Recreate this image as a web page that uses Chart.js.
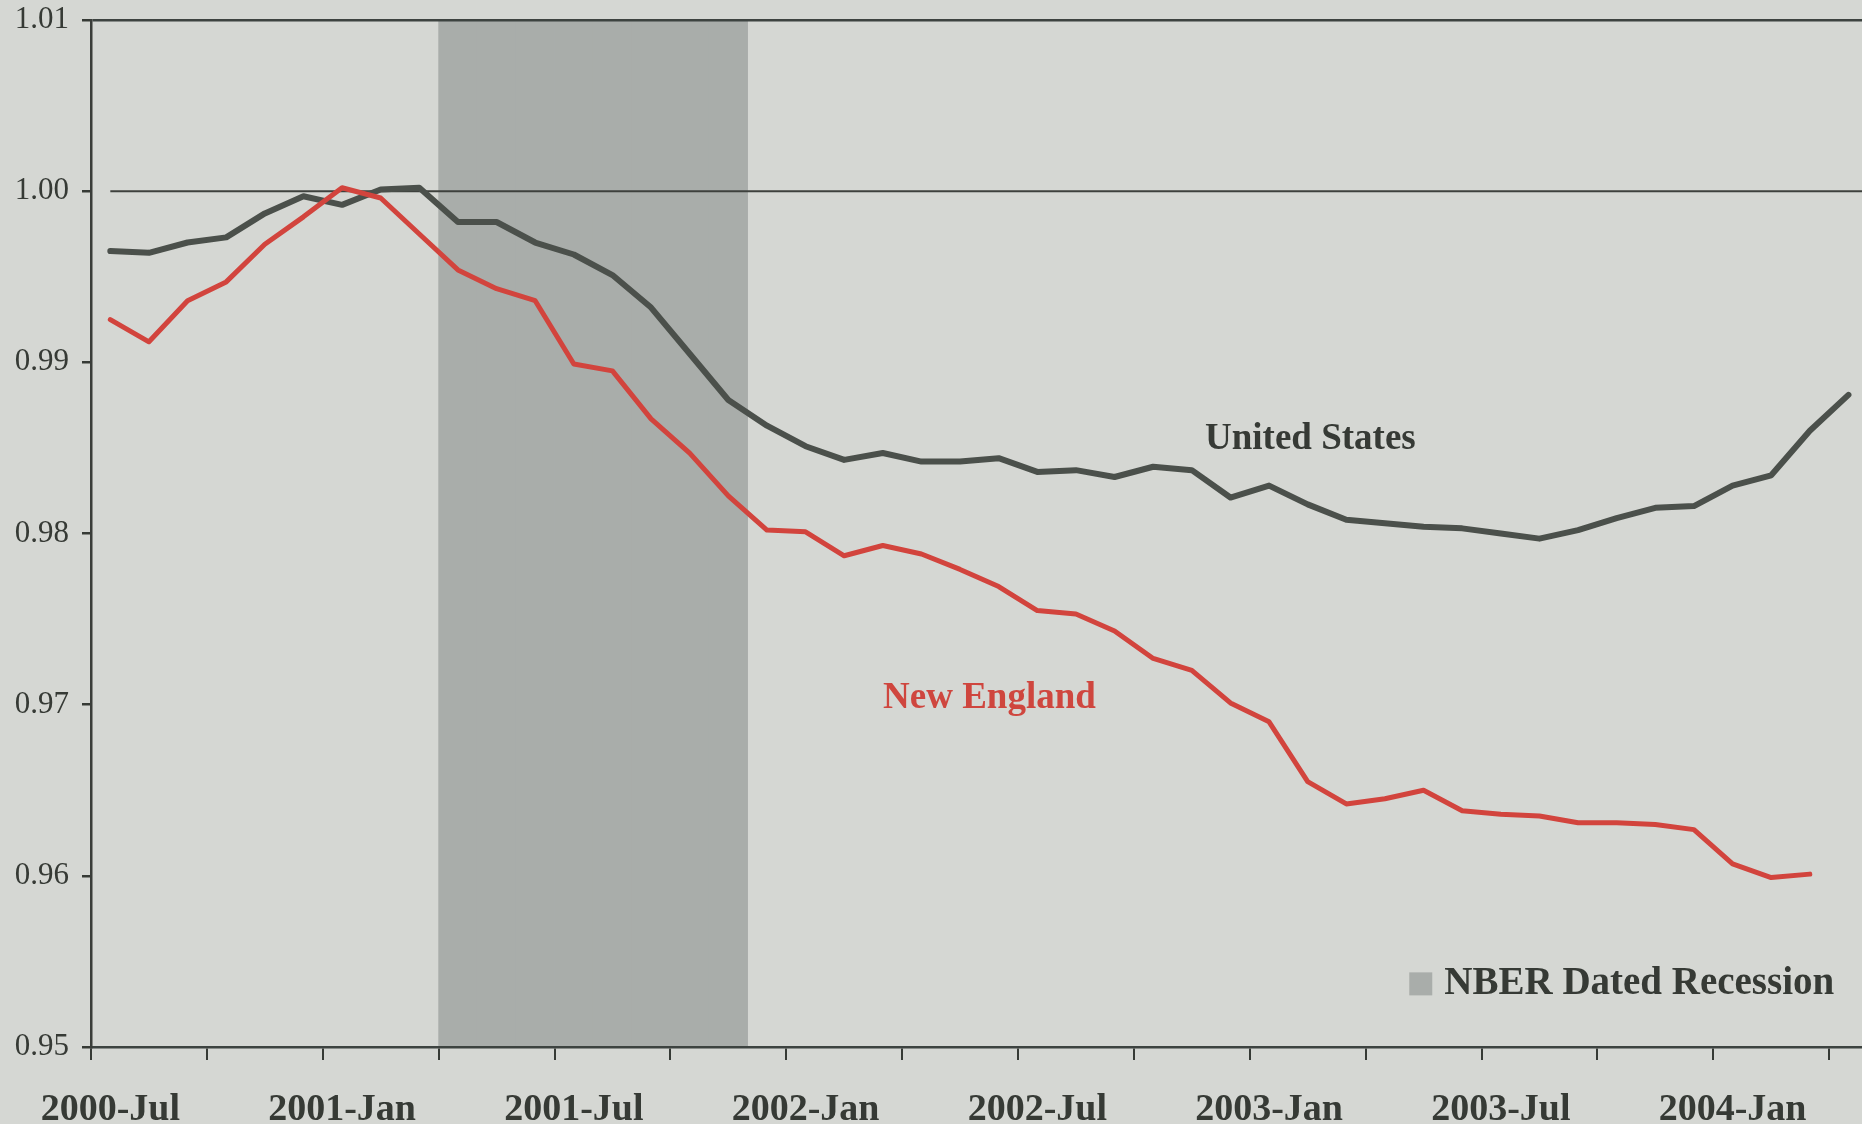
<!DOCTYPE html>
<html>
<head>
<meta charset="utf-8">
<script src="https://cdn.jsdelivr.net/npm/chart.js@4.4.1/dist/chart.umd.min.js"></script>
<style>
    html, body {
        margin: 0;
        padding: 0;
        background: #d5d7d3;
        overflow: hidden;
    }
    #caixa {
        width: 1945px;
        height: 1124px;
    }
</style>
</head>
<body>
<div id="caixa">
    <canvas id="grafico-emprego" width="1945" height="1124"></canvas>
</div>
<script>
// meses (categorias do eixo x)
const meses = [
    '2000-Jul', '2000-Aug', '2000-Sep', '2000-Oct', '2000-Nov', '2000-Dec',
    '2001-Jan', '2001-Feb', '2001-Mar', '2001-Apr', '2001-May', '2001-Jun',
    '2001-Jul', '2001-Aug', '2001-Sep', '2001-Oct', '2001-Nov', '2001-Dec',
    '2002-Jan', '2002-Feb', '2002-Mar', '2002-Apr', '2002-May', '2002-Jun',
    '2002-Jul', '2002-Aug', '2002-Sep', '2002-Oct', '2002-Nov', '2002-Dec',
    '2003-Jan', '2003-Feb', '2003-Mar', '2003-Apr', '2003-May', '2003-Jun',
    '2003-Jul', '2003-Aug', '2003-Sep', '2003-Oct', '2003-Nov', '2003-Dec',
    '2004-Jan', '2004-Feb', '2004-Mar', '2004-Apr', '2004-May', '2004-Jun'
];

// series (índice, pico = 1.00)
const estadosUnidos = [
    0.9965, 0.9964, 0.9970, 0.9973, 0.9987, 0.9997, 0.9992, 1.0001, 1.0002, 0.9982,
    0.9982, 0.9970, 0.9963, 0.9951, 0.9932, 0.9905, 0.9878, 0.9863, 0.9851, 0.9843,
    0.9847, 0.9842, 0.9842, 0.9844, 0.9836, 0.9837, 0.9833, 0.9839, 0.9837, 0.9821,
    0.9828, 0.9817, 0.9808, 0.9806, 0.9804, 0.9803, 0.9800, 0.9797, 0.9802, 0.9809,
    0.9815, 0.9816, 0.9828, 0.9834, 0.9860, 0.9881
];
const novaInglaterra = [
    0.9925, 0.9912, 0.9936, 0.9947, 0.9969, 0.9985, 1.0002, 0.9996, 0.9975, 0.9954,
    0.9943, 0.9936, 0.9899, 0.9895, 0.9867, 0.9847, 0.9822, 0.9802, 0.9801, 0.9787,
    0.9793, 0.9788, 0.9779, 0.9769, 0.9755, 0.9753, 0.9743, 0.9727, 0.9720, 0.9701,
    0.9690, 0.9655, 0.9642, 0.9645, 0.9650, 0.9638, 0.9636, 0.9635, 0.9631, 0.9631,
    0.9630, 0.9627, 0.9607, 0.9599, 0.9601
];
const linhaBase = 1.00;

// recessão NBER (meses sombreados)
const recessaoInicio = '2001-Apr';
const recessaoFim = '2001-Nov';

// eixo y
const yMin = 0.95;
const yMax = 1.01;
const yPasso = 0.01;

const corTexto = '#363a35';
const corSombra = '#a9adaa';
const fonte = '"Liberation Serif", "Times New Roman", serif';

window.addEventListener('load', () => {
    gerarGraficoLinha();
});

function gerarGraficoLinha() {
    const canvas = document.getElementById('grafico-emprego');
    const iIni = meses.indexOf(recessaoInicio);
    const iFim = meses.indexOf(recessaoFim);
    const sombra = meses.map((m, i) => (i >= iIni && i <= iFim) ? [yMin, yMax] : null);
    const base = meses.map(() => linhaBase);

    // textos dentro do gráfico
    const rotulos = {
        id: 'rotulos',
        afterDatasetsDraw(chart) {
            const ctx = chart.ctx;
            const x = chart.scales.x;
            const y = chart.scales.y;
            ctx.save();
            ctx.textBaseline = 'alphabetic';

            ctx.font = 'bold 37px ' + fonte;
            ctx.textAlign = 'center';
            ctx.fillStyle = corTexto;
            ctx.fillText('United States', x.getPixelForValue(31.07), y.getPixelForValue(0.98495));
            ctx.fillStyle = '#cf463e';
            ctx.fillText('New England', x.getPixelForValue(22.76), y.getPixelForValue(0.9698));

            // legenda da recessão
            const lx = x.getPixelForValue(33.63);
            const ly = y.getPixelForValue(0.95436);
            ctx.fillStyle = corSombra;
            ctx.fillRect(lx, ly, 23, 23);
            ctx.font = 'bold 39px ' + fonte;
            ctx.textAlign = 'left';
            ctx.fillStyle = corTexto;
            ctx.fillText('NBER Dated Recession', lx + 35, ly + 22);
            ctx.restore();
        }
    };

    new Chart(canvas, {
        type: 'line',
        data: {
            labels: meses,
            datasets: [
                {
                    label: 'New England',
                    data: novaInglaterra,
                    borderColor: '#d2443d',
                    borderWidth: 5,
                    pointRadius: 0,
                    tension: 0,
                    borderJoinStyle: 'round',
                    borderCapStyle: 'round',
                    order: 0
                },
                {
                    label: 'United States',
                    data: estadosUnidos,
                    borderColor: '#4b504b',
                    borderWidth: 6,
                    pointRadius: 0,
                    tension: 0,
                    borderJoinStyle: 'round',
                    borderCapStyle: 'round',
                    order: 1
                },
                {
                    label: 'base',
                    data: base,
                    borderColor: '#3e413d',
                    borderWidth: 2,
                    pointRadius: 0,
                    order: 2
                },
                {
                    type: 'bar',
                    label: 'NBER Dated Recession',
                    data: sombra,
                    backgroundColor: corSombra,
                    borderWidth: 0,
                    barPercentage: 1,
                    categoryPercentage: 1,
                    order: 3
                }
            ]
        },
        options: {
            responsive: false,
            animation: false,
            layout: {
                padding: { top: 20, left: 0, right: 0, bottom: 0 }
            },
            plugins: {
                legend: { display: false },
                tooltip: { enabled: false },
                title: { display: false }
            },
            scales: {
                x: {
                    type: 'category',
                    offset: true,
                    afterFit(scale) {
                        scale.height = 77;
                        scale.paddingLeft = 0;
                        scale.paddingRight = 0;
                    },
                    grid: {
                        offset: true,
                        drawOnChartArea: false,
                        drawTicks: true,
                        tickLength: 13,
                        lineWidth: 2,
                        tickColor: (c) => c.index % 3 === 0 ? corTexto : 'rgba(0,0,0,0)',
                        z: 1
                    },
                    border: { display: true, color: '#3d4340', width: 2.5, z: 1 },
                    ticks: {
                        autoSkip: false,
                        maxRotation: 0,
                        minRotation: 0,
                        padding: 27,
                        color: corTexto,
                        font: { family: fonte, size: 38, weight: 'bold' },
                        callback: (v, i) => i % 6 === 0 ? meses[i] : ''
                    }
                },
                y: {
                    min: yMin,
                    max: yMax,
                    afterFit(scale) {
                        scale.width = 91;
                        scale.paddingTop = 0;
                        scale.paddingBottom = 0;
                    },
                    grid: {
                        drawTicks: true,
                        tickLength: 9,
                        lineWidth: 2.5,
                        color: (c) => (c.tick && Math.abs(c.tick.value - yMax) < 1e-6) ? '#3d4340' : 'rgba(0,0,0,0)',
                        tickColor: corTexto,
                        z: 1
                    },
                    border: { display: true, color: '#3a3d39', width: 2.5, z: 1 },
                    ticks: {
                        stepSize: yPasso,
                        padding: 13,
                        color: corTexto,
                        font: { family: fonte, size: 31 },
                        callback: (v) => v.toFixed(2)
                    }
                }
            }
        },
        plugins: [rotulos]
    });
}
</script>
</body>
</html>
